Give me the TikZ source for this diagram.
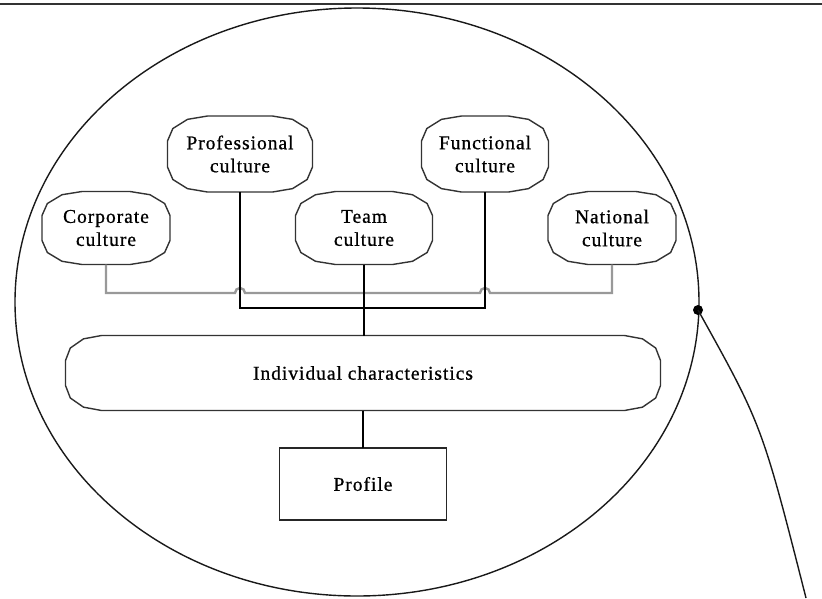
\documentclass[tikz,border=0pt]{standalone}
\usepackage{fontspec}
\setmainfont{Liberation Serif}[LetterSpace=5, FakeBold=0.8]
\usetikzlibrary{calc}

% Outline of a soft-cornered box drawn around a named node:
% #1 node name, #2 horizontal corner size, #3 vertical corner size.
% Each corner is a quarter ellipse approximated by three straight pieces.
\newcommand{\softbox}[3]{%
  \draw[boxline] let \p1=(#1.north west), \p2=(#1.south east) in
    (\x1+#2,\y1) -- (\x2-#2,\y1)
    -- (\x2-0.5*#2,\y1-0.134*#3) -- (\x2-0.134*#2,\y1-0.5*#3) -- (\x2,\y1-#3)
    -- (\x2,\y2+#3)
    -- (\x2-0.134*#2,\y2+0.5*#3) -- (\x2-0.5*#2,\y2+0.134*#3) -- (\x2-#2,\y2)
    -- (\x1+#2,\y2)
    -- (\x1+0.5*#2,\y2+0.134*#3) -- (\x1+0.134*#2,\y2+0.5*#3) -- (\x1,\y2+#3)
    -- (\x1,\y1-#3)
    -- (\x1+0.134*#2,\y1-0.5*#3) -- (\x1+0.5*#2,\y1-0.134*#3) -- cycle;}

\begin{document}
\begin{tikzpicture}[x=1pt,y=-1pt,
  every node/.style={inner sep=0pt, outer sep=0pt, align=center,
    font=\fontsize{19.5}{23}\selectfont},
  boxline/.style={line width=1.4pt, draw=black!80},
  blackline/.style={line width=1.6pt, draw=black},
  grayline/.style={line width=2.4pt, draw=black!40},
  ringline/.style={line width=1.4pt, draw=black!90}]

\useasboundingbox (0,0) rectangle (822,598);

% rule along the top edge
\draw[line width=1.8pt, black!80] (0,4) -- (822,4);

% enclosing ring
\draw[ringline] (357,302) ellipse [x radius=342pt, y radius=294pt];

% culture boxes
\node[minimum width=128pt, minimum height=73pt] (corp) at (106,228) {Corporate\\culture};
\node[minimum width=145pt, minimum height=76pt] (prof) at (240,154) {Professional\\culture};
\node[minimum width=137pt, minimum height=73pt] (team) at (364,228) {Team\\culture};
\node[minimum width=127pt, minimum height=76pt] (func) at (485,154) {Functional\\culture};
\node[minimum width=128pt, minimum height=73pt] (nat)  at (612,228) {National\\culture};

\softbox{corp}{40pt}{24pt}
\softbox{prof}{40pt}{25pt}
\softbox{team}{40pt}{24pt}
\softbox{func}{40pt}{25pt}
\softbox{nat}{40pt}{24pt}

% individual characteristics and profile
\node[minimum width=595pt, minimum height=75pt] (indiv) at (363,373) {Individual characteristics};
\softbox{indiv}{36pt}{25pt}

\node[draw=black!85, line width=1.4pt, minimum width=167pt, minimum height=72pt] (profile) at (363,484) {Profile};

% bus levels
\coordinate (graybus) at (0,293);
\coordinate (blackbus) at (0,308);

% grey bus with hops over the black verticals
\draw[grayline] (corp.south) -- (corp.south |- graybus)
  -- ($(prof.south |- graybus)+(-5,0)$) arc[start angle=180, end angle=0, radius=5pt]
  -- ($(func.south |- graybus)+(-5,0)$) arc[start angle=180, end angle=0, radius=5pt]
  -- (nat.south |- graybus) -- (nat.south);

% black bus
\draw[blackline] (prof.south) -- (prof.south |- blackbus)
  -- (func.south |- blackbus) -- (func.south);
\draw[blackline] (team.south) -- (team.south |- indiv.north);
\draw[blackline] (indiv.south) -- (profile.north);

% knot on the ring and its tail
\node[circle, fill=black, minimum size=10pt] (knot) at (698,310) {};
\coordinate (tail) at (806,598);
\draw[ringline] (knot.center) .. controls (762,425) .. (tail);

\end{tikzpicture}
\end{document}
